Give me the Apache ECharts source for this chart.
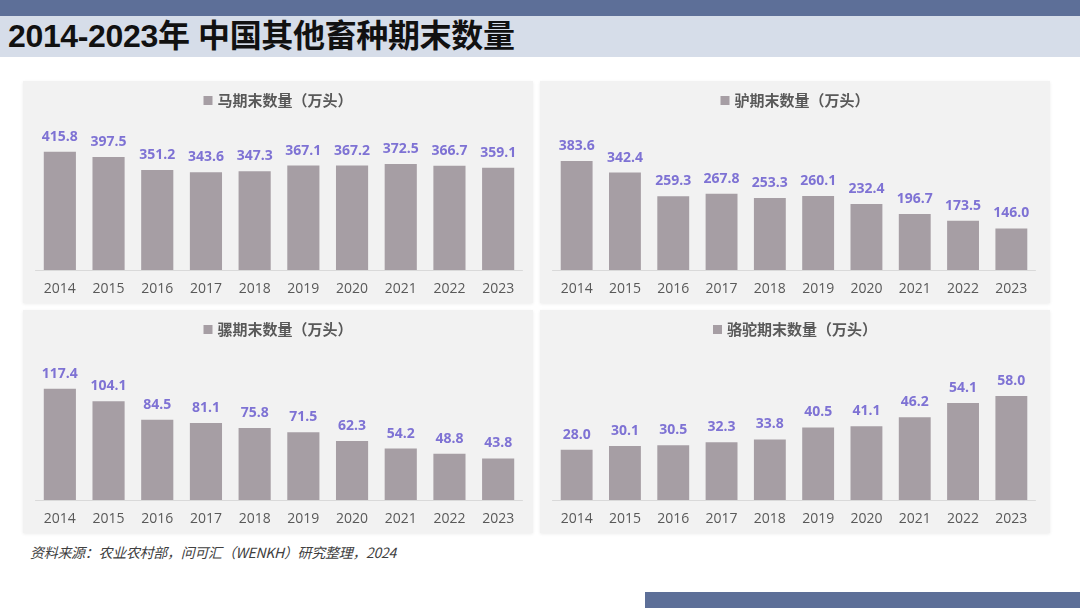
<!DOCTYPE html>
<html>
<head>
<meta charset="utf-8">
<script src="https://cdn.jsdelivr.net/npm/echarts@6/dist/echarts.min.js"></script>
<style>
    html, body { margin: 0; padding: 0; background: #fff; }
    .page { position: relative; width: 1080px; height: 608px; overflow: hidden; font-family: "Noto Sans CJK SC", sans-serif; }
    .top-bar { position: absolute; left: 0; top: 0; width: 1080px; height: 16px; background: #5d6f98; }
    .title-band { position: absolute; left: 0; top: 16px; width: 1080px; height: 41px; background: #d6dde9; }
    .title { position: absolute; left: 8px; top: 16px; height: 41px; line-height: 41px; font-size: 32px; font-weight: bold; color: #111;
             font-family: "Liberation Sans", "Noto Sans CJK SC", sans-serif; letter-spacing: -0.35px; }
    .panel { position: absolute; width: 510px; background: #f2f2f2; box-shadow: 0 1px 3px rgba(0,0,0,0.08); }
    .footer { position: absolute; left: 30px; top: 542px; font-size: 14px; font-style: italic; color: #404040; letter-spacing: -0.3px; }
    .bottom-bar { position: absolute; left: 645px; top: 592px; width: 435px; height: 16px; background: #5d6f98; }
</style>
</head>
<body>
<div class="page">
    <div class="top-bar"></div>
    <div class="title-band"></div>
    <div class="title">2014-2023年 中国其他畜种期末数量</div>
    <div class="panel" id="horse" style="left:23px;top:81px;height:222px;"></div>
    <div class="panel" id="donkey" style="left:540px;top:81px;height:222px;"></div>
    <div class="panel" id="mule" style="left:23px;top:310px;height:223px;"></div>
    <div class="panel" id="camel" style="left:540px;top:310px;height:223px;"></div>
    <div class="footer">资料来源：农业农村部，问可汇（WENKH）研究整理，2024</div>
    <div class="bottom-bar"></div>
</div>
<script type="text/javascript">
    // 数据
    var years = ['2014','2015','2016','2017','2018','2019','2020','2021','2022','2023'];
    var horse = [415.8, 397.5, 351.2, 343.6, 347.3, 367.1, 367.2, 372.5, 366.7, 359.1];
    var donkey = [383.6, 342.4, 259.3, 267.8, 253.3, 260.1, 232.4, 196.7, 173.5, 146.0];
    var mule = [117.4, 104.1, 84.5, 81.1, 75.8, 71.5, 62.3, 54.2, 48.8, 43.8];
    var camel = [28.0, 30.1, 30.5, 32.3, 33.8, 40.5, 41.1, 46.2, 54.1, 58.0];
    var axisMax = { horse: 450, donkey: 450, mule: 136, camel: 72 };

    function createChart(id, name, data, max, right) {
        var myChart = echarts.init(document.getElementById(id));
        var option = {
            animation: false,
            color: ['#a69ea4'],
            legend: {
                top: 7,
                left: 'center',
                icon: 'rect',
                itemWidth: 9,
                itemHeight: 9,
                itemGap: 4,
                textStyle: {
                    fontSize: 15,
                    fontWeight: 'bold',
                    color: '#595959',
                    fontFamily: 'Noto Sans CJK SC'
                },
                data: [name]
            },
            grid: {
                left: 12.5,
                right: right,
                top: 61,
                bottom: 33
            },
            xAxis: {
                type: 'category',
                data: years,
                axisLine: { lineStyle: { color: '#d9d9d9' } },
                axisTick: { length: 4, lineStyle: { color: '#d9d9d9' } },
                axisLabel: {
                    margin: 12,
                    fontSize: 14,
                    color: '#595959',
                    fontFamily: 'Open Sans'
                }
            },
            yAxis: {
                type: 'value',
                min: 0,
                max: max,
                show: false,
                splitLine: { show: false }
            },
            series: [
                {
                    name: name,
                    type: 'bar',
                    barWidth: '66%',
                    data: data,
                    label: {
                        show: true,
                        position: 'top',
                        distance: 8,
                        fontSize: 14,
                        fontWeight: 'bold',
                        color: '#7e72d4',
                        fontFamily: 'Open Sans',
                        formatter: function (p) {
                            return p.value.toFixed(1);
                        }
                    }
                }
            ]
        };
        myChart.setOption(option);
    }

    createChart('horse', '马期末数量（万头）', horse, axisMax.horse, 10.5);
    createChart('donkey', '驴期末数量（万头）', donkey, axisMax.donkey, 14.5);
    createChart('mule', '骡期末数量（万头）', mule, axisMax.mule, 10.5);
    createChart('camel', '骆驼期末数量（万头）', camel, axisMax.camel, 14.5);
</script>
</body>
</html>
